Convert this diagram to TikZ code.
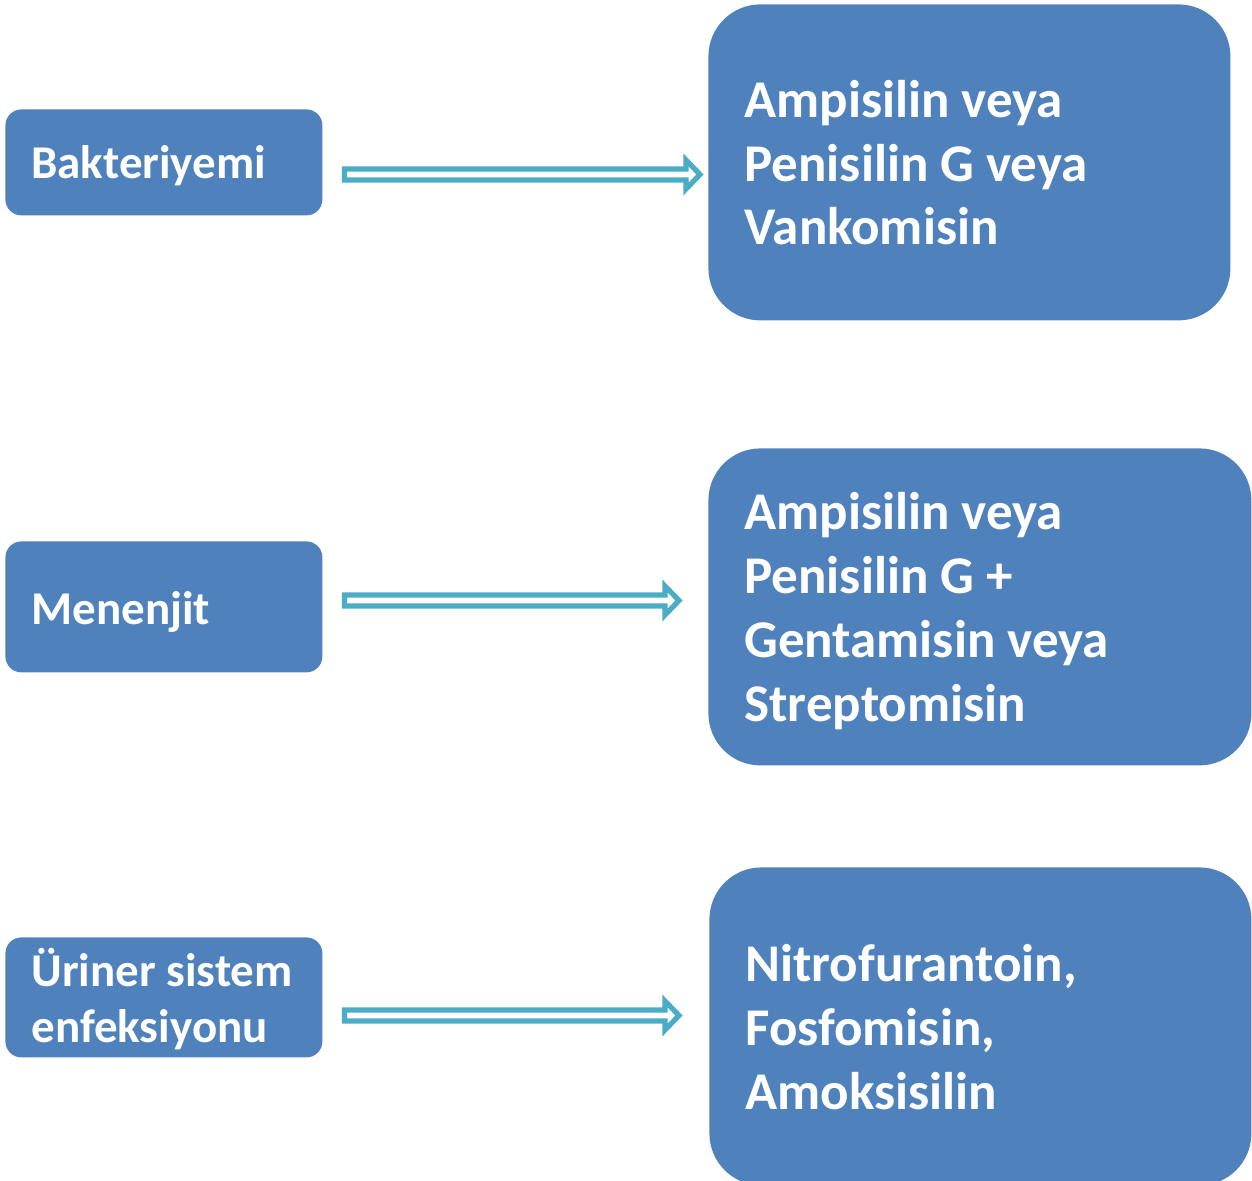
\documentclass[tikz,border=0pt]{standalone}
\usepackage{fontspec}
\setmainfont{Carlito}
\usetikzlibrary{calc}
\definecolor{boxblue}{HTML}{4F81BD}
\definecolor{arrteal}{HTML}{4BACC6}
\tikzset{
  lbox/.style={fill=boxblue, rounded corners=8pt, anchor=north west, inner sep=0pt, draw=none},
  rbox/.style={fill=boxblue, rounded corners=26pt, anchor=north west, inner sep=0pt, draw=none},
  ltext/.style={text=white, font=\fontsize{23.5}{28}\selectfont\bfseries, anchor=base west, align=left, inner sep=0pt},
  rtext/.style={text=white, font=\fontsize{26.5}{31.9}\selectfont\bfseries, anchor=base west, align=left, inner sep=0pt},
  hollow/.style={draw=arrteal, line width=2.6pt, line join=miter, fill=white},
}
\newcommand{\hollowarrow}[2]{%
  \draw[hollow] ($(#1)+(0,-5.5)$) -- ($(#2)+(-14,-5.5)$) -- ($(#2)+(-14,-14.5)$) -- (#2)
    -- ($(#2)+(-14,14.5)$) -- ($(#2)+(-14,5.5)$) -- ($(#1)+(0,5.5)$) -- cycle;}
\begin{document}
\begin{tikzpicture}[x=0.5pt,y=0.5pt]
\useasboundingbox (0,0) rectangle (1252,-1181);
\clip (0,0) rectangle (1252,-1181);
% left boxes
\node[lbox, minimum width=158.5pt, minimum height=53pt] (b1) at (5,-109) {};
\node[lbox, minimum width=158.5pt, minimum height=65.5pt] (b2) at (5,-541) {};
\node[lbox, minimum width=158.5pt, minimum height=60pt] (b3) at (5,-937) {};
% text nodes: anchor is the baseline of the last line
\node[ltext] (t1) at (31,-179) {Bakteriyemi};
\node[ltext] (t2) at (31,-624) {Menenjit};
\node[ltext] (t3) at (31,-1042) {Üriner sistem\\enfeksiyonu};
% right boxes
\node[rbox, minimum width=261pt, minimum height=158pt] (r1) at (708,-4) {};
\node[rbox, minimum width=271.5pt, minimum height=158.5pt] (r2) at (708,-448) {};
\node[rbox, minimum width=271pt, minimum height=159pt] (r3) at (709,-867) {};
\node[rtext] (s1) at (744,-245) {Ampisilin veya\\Penisilin G veya\\Vankomisin};
\node[rtext] (s2) at (744,-721) {Ampisilin veya\\Penisilin G +\\Gentamisin veya\\Streptomisin};
\node[rtext] (s3) at (745,-1109) {Nitrofurantoin,\\Fosfomisin,\\Amoksisilin};
% arrows
\coordinate (a1s) at (344.5,-174.5);
\coordinate (a1e) at (700,-174.5);
\coordinate (a2s) at (344.5,-600.5);
\coordinate (a2e) at (679,-600.5);
\coordinate (a3s) at (344.5,-1015.5);
\coordinate (a3e) at (679,-1015.5);
\hollowarrow{a1s}{a1e}
\hollowarrow{a2s}{a2e}
\hollowarrow{a3s}{a3e}
\end{tikzpicture}
\end{document}
